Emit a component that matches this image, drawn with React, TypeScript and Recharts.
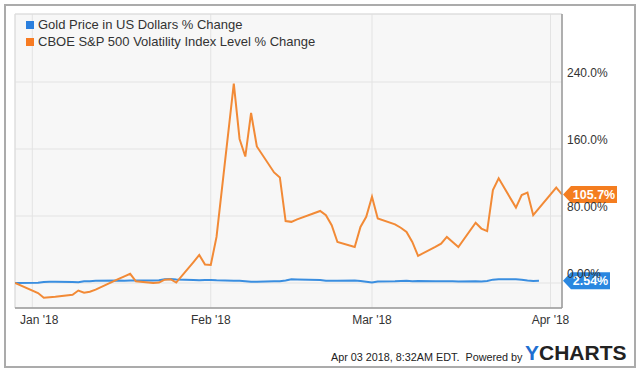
import React from 'react';
import { LineChart, Line, XAxis, YAxis, CartesianGrid, ReferenceLine, ReferenceDot, Legend } from 'recharts';

const seriesNames = ['Gold Price in US Dollars % Change', 'CBOE S&P 500 Volatility Index Level % Change'];
const seriesColors = ['#3a8ee0', '#f28a36'];
const legendColors = ['#2a7fde', '#f77b22'];
const badgeColors = ['#2a87e0', '#f47d20'];

const goldDates = [
  '2017-12-29', '2018-01-02', '2018-01-03', '2018-01-04', '2018-01-05', '2018-01-08', '2018-01-09', '2018-01-10',
  '2018-01-11', '2018-01-12', '2018-01-16', '2018-01-17', '2018-01-18', '2018-01-19', '2018-01-22', '2018-01-23',
  '2018-01-24', '2018-01-25', '2018-01-26', '2018-01-29', '2018-01-30', '2018-01-31', '2018-02-01', '2018-02-02',
  '2018-02-05', '2018-02-06', '2018-02-07', '2018-02-08', '2018-02-09', '2018-02-12', '2018-02-13', '2018-02-14',
  '2018-02-15', '2018-02-16', '2018-02-20', '2018-02-21', '2018-02-22', '2018-02-23', '2018-02-26', '2018-02-27',
  '2018-02-28', '2018-03-01', '2018-03-02', '2018-03-05', '2018-03-06', '2018-03-07', '2018-03-08', '2018-03-09',
  '2018-03-12', '2018-03-13', '2018-03-14', '2018-03-15', '2018-03-16', '2018-03-19', '2018-03-20', '2018-03-21',
  '2018-03-22', '2018-03-23', '2018-03-26', '2018-03-27', '2018-03-28', '2018-03-29', '2018-03-30',
];
const goldValues = [
  0, 0.3, 1.2, 1.5, 1.4, 1.2, 1.0, 2.0,
  2.2, 2.6, 3.0, 2.8, 2.9, 3.1, 3.0, 3.4,
  4.4, 4.8, 4.3, 3.6, 3.2, 3.6, 3.6, 3.2,
  2.8, 2.6, 2.0, 1.5, 1.6, 2.0, 2.1, 3.0,
  4.4, 4.2, 3.6, 2.8, 2.7, 2.8, 3.0, 2.4,
  1.5, 0.5, 1.8, 2.0, 2.5, 2.6, 2.2, 2.3,
  2.0, 2.2, 2.1, 2.0, 1.9, 2.0, 1.8, 2.3,
  4.0, 4.4, 4.5, 4.0, 2.9, 2.4, 2.54,
];

const vixDates = [
  '2017-12-29', '2018-01-02', '2018-01-03', '2018-01-04', '2018-01-05', '2018-01-08', '2018-01-09', '2018-01-10',
  '2018-01-11', '2018-01-12', '2018-01-16', '2018-01-17', '2018-01-18', '2018-01-19', '2018-01-22', '2018-01-23',
  '2018-01-24', '2018-01-25', '2018-01-26', '2018-01-29', '2018-01-30', '2018-01-31', '2018-02-01', '2018-02-02',
  '2018-02-05', '2018-02-06', '2018-02-07', '2018-02-08', '2018-02-09', '2018-02-12', '2018-02-13', '2018-02-14',
  '2018-02-15', '2018-02-16', '2018-02-20', '2018-02-21', '2018-02-22', '2018-02-23', '2018-02-26', '2018-02-27',
  '2018-02-28', '2018-03-01', '2018-03-02', '2018-03-05', '2018-03-06', '2018-03-07', '2018-03-08', '2018-03-09',
  '2018-03-12', '2018-03-13', '2018-03-14', '2018-03-15', '2018-03-16', '2018-03-19', '2018-03-20', '2018-03-21',
  '2018-03-22', '2018-03-23', '2018-03-26', '2018-03-27', '2018-03-28', '2018-03-29', '2018-04-02', '2018-04-03',
];
const vixValues = [
  0, -12, -17.5, -17, -16.5, -14, -9, -11.5,
  -10.5, -8, 5, 8, 11, 2, 0, 0.5,
  4, 4.5, 0.5, 25, 33.5, 22, 21.5, 55,
  238, 172, 151, 203, 163, 132, 126, 74,
  73, 76, 86, 81, 69, 49, 43, 67,
  79, 103, 77, 70, 66, 61, 49, 32.5,
  43, 47, 55, 49, 43, 72, 65, 62,
  111, 125, 90, 105, 108, 81, 114, 105.7,
];

const xStartDate = '2017-12-29';
const xEndDate = '2018-04-03';
const xTickDates = ['2018-01-01', '2018-02-01', '2018-03-01', '2018-04-01'];
const xTickLabels = ["Jan '18", "Feb '18", "Mar '18", "Apr '18"];
const yTicks = [0, 80, 160, 240];
const yTickLabels = ['0.00%', '80.00%', '160.0%', '240.0%'];
const yDomain = [-29.85, 321.2];
const goldBadgeText = '2.54%';
const vixBadgeText = '105.7%';
const footerText = 'Apr 03 2018, 8:32AM EDT.  Powered by';
const logoFirst = 'Y';
const logoRest = 'CHARTS';

const toT = (d: string) => Date.parse(d + 'T00:00:00Z');

const buildRows = () => {
  const map = new Map<number, any>();
  goldDates.forEach((d, i) => {
    const t = toT(d);
    map.set(t, { ...(map.get(t) || { t }), gold: goldValues[i] });
  });
  vixDates.forEach((d, i) => {
    const t = toT(d);
    map.set(t, { ...(map.get(t) || { t }), vix: vixValues[i] });
  });
  return Array.from(map.values()).sort((a, b) => a.t - b.t);
};

const rows = buildRows();
const xMin = toT(xStartDate);
const xMax = toT(xEndDate);
const xTicks = xTickDates.map(toT);

const FONT = '"Liberation Sans", Arial, Helvetica, sans-serif';

const XTick = (props: any) => {
  const { x, y, payload, index } = props;
  const i = xTicks.indexOf(payload.value);
  return (
    <text x={x + (index === 0 ? 7 : 0)} y={y + 16} textAnchor="middle" fontSize={12} fontFamily={FONT} fill="#333">
      {xTickLabels[i]}
    </text>
  );
};

const YTick = (props: any) => {
  const { x, y, payload } = props;
  const i = yTicks.indexOf(payload.value);
  return (
    <text x={x + 5} y={y - 5} textAnchor="start" fontSize={12} fontFamily={FONT} fill="#333">
      {yTickLabels[i]}
    </text>
  );
};

const makeBadge = (text: string, color: string) => (props: any) => {
  const { cx, cy } = props;
  const w = text.length * 7 + 4;
  const h = 17;
  const tip = cx + 1;
  const bx = cx + 9;
  return (
    <g>
      <polygon points={`${tip},${cy} ${bx},${cy - h / 2} ${bx + w},${cy - h / 2} ${bx + w},${cy + h / 2} ${bx},${cy + h / 2}`} fill={color} />
      <text x={bx + w / 2} y={cy + 4.5} textAnchor="middle" fontSize={12.5} fontWeight="bold" fontFamily={FONT} fill="#fff">
        {text}
      </text>
    </g>
  );
};

const LegendContent = () => (
  <div style={{ fontFamily: FONT, fontSize: 13, color: '#333', lineHeight: '16.6px' }}>
    {seriesNames.map((n, i) => (
      <div key={n} style={{ display: 'flex', alignItems: 'center', whiteSpace: 'nowrap' }}>
        <span style={{ display: 'inline-block', width: 8, height: 8, background: legendColors[i], marginRight: 4 }} />
        <span>{n}</span>
      </div>
    ))}
  </div>
);

export default function App() {
  return (
    <div style={{ position: 'absolute', left: 0, top: 0, width: 640, height: 371, background: '#fff', overflow: 'hidden' }}>
      <div style={{ position: 'absolute', left: 4, top: 4, width: 632, height: 364, boxSizing: 'border-box', border: '2px solid #ababab' }} />
      <div style={{ position: 'absolute', left: 0, top: 0 }}>
        <LineChart width={640} height={371} data={rows} margin={{ top: 14, left: 15, right: 8, bottom: 33 }}>
          <CartesianGrid fill="#f7f7f7" stroke="#e3e3e3" strokeWidth={1} />
          <ReferenceLine x={xMin} stroke="#dcdcdc" />
          <ReferenceLine y={yDomain[1]} stroke="#dcdcdc" />
          <XAxis
            dataKey="t"
            type="number"
            domain={[xMin, xMax]}
            ticks={xTicks}
            allowDataOverflow
            tickLine={false}
            tickSize={0}
            tickMargin={0}
            height={30}
            axisLine={{ stroke: '#999', strokeWidth: 1.5 }}
            tick={<XTick />}
            interval={0}
          />
          <YAxis
            orientation="right"
            type="number"
            domain={yDomain}
            ticks={yTicks}
            allowDataOverflow
            tickLine={false}
            tickSize={0}
            tickMargin={0}
            width={70}
            axisLine={{ stroke: '#999', strokeWidth: 1.5 }}
            tick={<YTick />}
            interval={0}
          />
          <Legend
            layout="vertical"
            align="center"
            verticalAlign="middle"
            content={<LegendContent />}
            wrapperStyle={{ left: 26, top: 17, width: 'auto' }}
          />
          <Line type="linear" dataKey="gold" stroke={seriesColors[0]} strokeWidth={2} dot={false} connectNulls isAnimationActive={false} />
          <Line type="linear" dataKey="vix" stroke={seriesColors[1]} strokeWidth={2} dot={false} connectNulls isAnimationActive={false} />
          <ReferenceDot x={xMax} y={goldValues[goldValues.length - 1]} r={0} shape={makeBadge(goldBadgeText, badgeColors[0])} />
          <ReferenceDot x={xMax} y={vixValues[vixValues.length - 1]} r={0} shape={makeBadge(vixBadgeText, badgeColors[1])} />
        </LineChart>
      </div>
      <div style={{ position: 'absolute', left: 331, top: 349, fontFamily: FONT, fontSize: 10.8, color: '#222', whiteSpace: 'pre', lineHeight: '16px' }}>
        {footerText}
      </div>
      <div style={{ position: 'absolute', left: 525, top: 341, fontFamily: FONT, fontSize: 21, fontWeight: 'bold', color: '#222', lineHeight: '24px', letterSpacing: 0 }}>
        <span style={{ color: '#1f6fd1' }}>{logoFirst}</span>
        <span>{logoRest}</span>
      </div>
    </div>
  );
}
